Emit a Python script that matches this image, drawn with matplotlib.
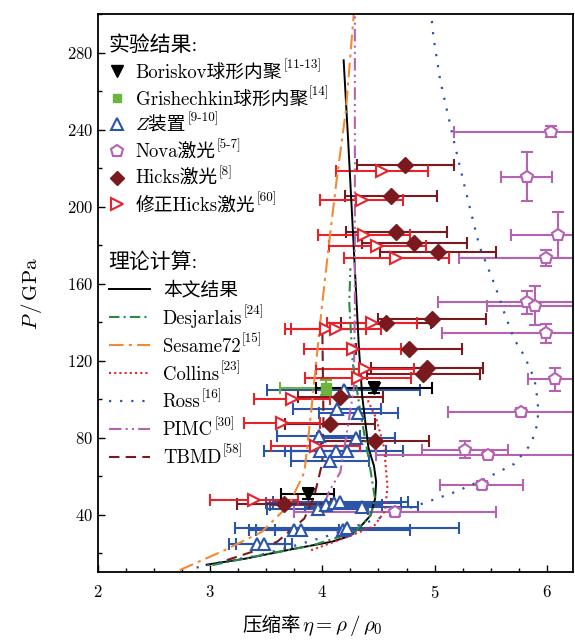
import numpy as np
import matplotlib
matplotlib.use('Agg')
import matplotlib.pyplot as plt
from matplotlib.lines import Line2D
from matplotlib.ticker import MultipleLocator
from matplotlib.transforms import IdentityTransform

FAM = ['cmr10', 'Noto Sans CJK SC']
plt.rcParams['font.family'] = FAM
plt.rcParams['mathtext.fontset'] = 'cm'
plt.rcParams['axes.formatter.use_mathtext'] = True

# 理论曲线 (eta, P)
ours_x = [2.97, 3.32, 3.76, 4.09, 4.25, 4.34, 4.43, 4.47, 4.48, 4.46, 4.41, 4.355, 4.325, 4.295, 4.23, 4.19]
ours_p = [14, 17.2, 22.4, 26, 29.1, 33.8, 39.6, 48.3, 57, 65.3, 75, 101.7, 127.6, 162, 234.5, 276]
desj_x = [3.02, 3.46, 3.91, 4.29, 4.43, 4.47, 4.41, 4.34, 4.27, 4.24, 4.25]
desj_p = [13.8, 19, 24, 31, 39.6, 48, 70, 93, 119, 150, 168]
sesame_x = [2.73, 3.11, 3.46, 3.70, 3.84, 3.90, 3.97, 4.00, 4.06, 4.13, 4.21, 4.28]
sesame_p = [11.2, 21, 31, 44.8, 62, 93, 133, 150, 181, 215, 250, 300]
collins_x = [3.90, 4.25, 4.46, 4.56, 4.58, 4.55, 4.48, 4.40]
collins_p = [21.5, 29, 34, 42, 55, 75, 90, 100]
ross_x = [2.88, 3.10, 3.41, 3.76, 4.05, 4.32, 4.60, 4.89, 5.18, 5.45, 5.71, 5.86, 5.92, 5.92, 5.89,
          5.80, 5.71, 5.62, 5.54, 5.40, 5.29, 5.17, 5.05, 4.99, 4.97]
ross_p = [12.5, 15.5, 18.5, 24, 29, 34.5, 40, 45.7, 51.7, 58.6, 66.4, 76.7, 88, 98.3, 110.4,
          122.4, 131, 145, 158.7, 179.3, 205, 234.5, 265.6, 288, 300]
pimc_x = [4.02, 4.06, 4.16, 4.20, 4.28, 4.29, 4.29]
pimc_p = [46, 52, 62, 76, 105, 150, 300]
tbmd_x = [3.15, 3.39, 3.60, 3.84, 3.93, 4.00, 4.01, 4.00]
tbmd_p = [16.4, 21, 26, 38, 50, 67, 90, 138]

# 实验数据
bor_x = [3.87, 4.46]
bor_p = [50.9, 106]
bor_xerr = [0.235, 0.52]
bor_perr = [3, 3]

gri_x = [4.03]
gri_p = [106]
gri_xerr = [0.41]
gri_perr = [4]

z_x = [4.19, 4.13, 4.32, 3.97, 4.30, 3.98, 4.12, 4.22, 4.07, 3.96, 4.03, 4.10, 4.16, 4.35,
       3.75, 3.81, 4.18, 4.22, 3.42, 3.48]
z_p = [105, 95, 93, 81, 80, 73, 73, 73, 68, 43, 45, 46, 46.5, 44, 32, 32, 32, 33, 25, 25]
z_xerr = [0.68, 0.39, 0.35, 0.37, 0.35, 0.5, 0.45, 0.5, 0.35, 0.45, 0.5, 0.6, 0.6, 0.5,
          0.4, 0.4, 0.6, 1.0, 0.25, 0.25]

nova_x = [6.04, 5.82, 6.10, 5.99, 5.82, 5.89, 5.99, 6.07, 5.77, 5.27, 5.48, 5.42, 4.65]
nova_p = [239, 215.5, 185.4, 173.3, 150.4, 148.6, 134.2, 110.4, 93.5, 73.8, 71.2, 55.5, 41.4]
nova_xerr = [0.87, 0.23, 0.42, 0.77, 0.79, 0.42, 0.92, 0.24, 0.65, 0.38, 1.0, 0.37, 0.9]
nova_perr = [3, 12.7, 12, 4.4, 6, 10, 5, 6, 2, 4.5, 2, 2, 2]

hicks_x = [4.74, 4.61, 4.66, 4.82, 5.03, 4.98, 4.57, 4.77, 4.93, 4.90, 4.16, 4.07, 4.47, 3.66]
hicks_p = [221.6, 205.5, 186.6, 181, 176.4, 141.5, 139.5, 126.2, 116, 113, 101, 87, 78.4, 45.7]
hicks_xerr = [0.43, 0.41, 0.45, 0.47, 0.52, 0.48, 0.4, 0.47, 0.5, 0.5, 0.38, 0.4, 0.48, 0.42]

mod_x = [4.53, 4.35, 4.37, 4.49, 4.66, 4.44, 4.03, 4.12, 4.27, 4.38, 4.32, 3.73, 3.64, 3.94, 3.39]
mod_p = [218.6, 203.5, 185.4, 179.7, 173.3, 139.7, 136.2, 136.2, 126.2, 115.5, 111.2, 100, 87.6, 75.5, 47.4]
mod_xerr = [0.41, 0.37, 0.41, 0.43, 0.47, 0.4, 0.36, 0.4, 0.43, 0.44, 0.47, 0.34, 0.34, 0.4, 0.39]

exp_labels = ['Boriskov球形内聚', 'Grishechkin球形内聚', 'Z装置', 'Nova激光', 'Hicks激光', '修正Hicks激光']
exp_refs = ['[11-13]', '[14]', '[9-10]', '[5-7]', '[8]', '[60]']
th_labels = ['本文结果', 'Desjarlais', 'Sesame72', 'Collins', 'Ross', 'PIMC', 'TBMD']
th_refs = ['', '[24]', '[15]', '[23]', '[16]', '[30]', '[58]']

c_blue = '#2b55a8'
c_mag = '#b562b2'
c_dred = '#7a1a1e'
c_red = '#e8222b'
c_green = '#6cb33f'
c_orange = '#f28a35'
c_dgreen = '#2a8a45'

fig = plt.figure(figsize=(5.75, 6.41), dpi=100)
ax = fig.add_axes([0.170, 0.107, 0.826, 0.871])

eb = dict(linestyle='none', capsize=4, elinewidth=1.5, capthick=1.5)
ax.errorbar(z_x, z_p, xerr=z_xerr, fmt='^', color=c_blue, mfc='white', mew=1.5, ms=8, **eb)
ax.errorbar(nova_x, nova_p, xerr=nova_xerr, yerr=nova_perr, fmt='p', color=c_mag, mfc='white',
            mew=1.5, ms=9, **eb)
ax.errorbar(hicks_x, hicks_p, xerr=hicks_xerr, fmt='D', color=c_dred, ms=8, **eb)
ax.errorbar(mod_x, mod_p, xerr=mod_xerr, fmt='>', color=c_red, mfc='white', mew=1.5, ms=9, **eb)
ax.errorbar(gri_x, gri_p, xerr=gri_xerr, yerr=gri_perr, fmt='s', color=c_green, ms=7, **eb)
ax.errorbar(bor_x, bor_p, xerr=bor_xerr, yerr=bor_perr, fmt='v', color='black', ms=8, **eb)

l_ours, = ax.plot(ours_x, ours_p, '-', color='black', lw=1.4)
l_desj, = ax.plot(desj_x, desj_p, color=c_dgreen, lw=1.5, dashes=[5, 2, 1, 2])
l_ses, = ax.plot(sesame_x, sesame_p, color=c_orange, lw=1.5, dashes=[7, 2.5, 1.5, 2.5])
l_col, = ax.plot(collins_x, collins_p, color=c_red, lw=1.5, dashes=[1, 1.5])
l_ross, = ax.plot(ross_x, ross_p, color=c_blue, lw=1.6, dashes=[1, 4])
l_pimc, = ax.plot(pimc_x, pimc_p, color=c_mag, lw=1.5, dashes=[6, 2, 1, 2, 1, 2])
l_tbmd, = ax.plot(tbmd_x, tbmd_p, color=c_dred, lw=1.5, dashes=[5, 3])

ax.set_xlim(2, 6.23)
ax.set_ylim(10, 300)
ax.xaxis.set_major_locator(MultipleLocator(1))
ax.xaxis.set_minor_locator(MultipleLocator(0.25))
ax.yaxis.set_major_locator(MultipleLocator(40))
ax.yaxis.set_minor_locator(MultipleLocator(20))
ax.tick_params(which='both', direction='in', labelsize=12, top=False, right=False)
ax.tick_params(which='major', length=5, width=1)
ax.tick_params(which='minor', length=3, width=1)
ax.tick_params(axis='x', pad=8)
for s in ax.spines.values():
    s.set_linewidth(1.3)

# 坐标轴标题
fig.text(301 / 575, 1 - 631 / 641, '压缩率', fontsize=14, ha='right', va='baseline')
fig.text(302 / 575, 1 - 631 / 641, '$\\eta=\\rho\\,/\\,\\rho_0$', fontsize=15, ha='left', va='baseline')
ax.set_ylabel('$P\\,/\\,$GPa', fontsize=15, labelpad=16)

# 图例
h1 = [Line2D([], [], ls='none', marker='v', color='black', ms=8),
      Line2D([], [], ls='none', marker='s', color=c_green, ms=6),
      Line2D([], [], ls='none', marker='^', color=c_blue, mfc='white', mew=1.5, ms=8),
      Line2D([], [], ls='none', marker='p', color=c_mag, mfc='white', mew=1.5, ms=9),
      Line2D([], [], ls='none', marker='D', color=c_dred, ms=7),
      Line2D([], [], ls='none', marker='>', color=c_red, mfc='white', mew=1.5, ms=9)]
leg1 = ax.legend(h1, exp_labels, loc='upper left', bbox_to_anchor=(-0.005, 0.985), frameon=False,
                 title='实验结果:', title_fontsize=15, alignment='left', fontsize=13.5,
                 handlelength=0.9, handletextpad=0.55, labelspacing=0.47, borderaxespad=0.3)
leg1.get_texts()[2].set_fontfamily(['cmmi10', 'Noto Sans CJK SC'])
ax.add_artist(leg1)

h2 = [l_ours, l_desj, l_ses, l_col, l_ross, l_pimc, l_tbmd]
leg2 = ax.legend(h2, th_labels, loc='upper left', bbox_to_anchor=(-0.005, 0.597), frameon=False,
                 title='理论计算:', title_fontsize=15, alignment='left', fontsize=13.5,
                 handlelength=2.2, handletextpad=0.7, labelspacing=0.53, borderaxespad=0.3)

# 上标文献号
fig.canvas.draw()
renderer = fig.canvas.get_renderer()
px = fig.dpi / 72.0
for leg, refs in ((leg1, exp_refs), (leg2, th_refs)):
    for t, r in zip(leg.get_texts(), refs):
        if not r:
            continue
        bb = t.get_window_extent(renderer)
        try:
            descent = t._get_layout(renderer)[2]
        except Exception:
            descent = 0.22 * 13.5 * px
        base = bb.y0 + descent
        fig.text(bb.x1 + 1, base + 0.5 * 13.5 * px, r, fontsize=9.5, ha='left', va='baseline',
                 transform=IdentityTransform())

fig.savefig('out.png', dpi=100)
